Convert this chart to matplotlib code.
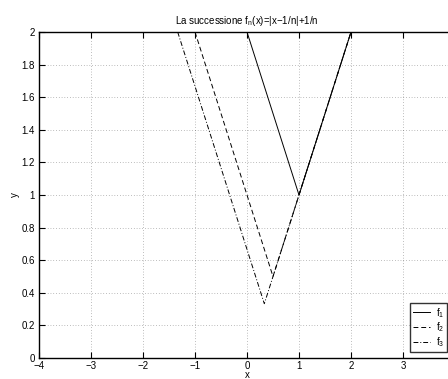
import matplotlib
matplotlib.use('Agg')
import matplotlib.pyplot as plt

plt.rcParams['font.family'] = ['Liberation Sans', 'DejaVu Sans']
plt.rcParams['mathtext.fontset'] = 'custom'
plt.rcParams['mathtext.rm'] = 'Liberation Sans'
plt.rcParams['mathtext.it'] = 'Liberation Sans'

# vertices: f_n(x) = |x - 1/n| + 1/n on the range where f <= 2
x1 = [0, 1, 2]
y1 = [2, 1, 2]
x2 = [-1, 0.5, 2]
y2 = [2, 0.5, 2]
x3 = [-1.333, 0.333, 2]
y3 = [2, 0.333, 2]

labels = ['f$_1$', 'f$_2$', 'f$_3$']
xticks = [-4, -3, -2, -1, 0, 1, 2, 3]
yticks = [0, 0.2, 0.4, 0.6, 0.8, 1, 1.2, 1.4, 1.6, 1.8, 2]

fig = plt.figure(figsize=(4.48, 3.79), dpi=100)
# axes run past the right edge of the picture, as in the original
ax = fig.add_axes([39 / 448, 21 / 379, 416 / 448, 326 / 379])

ax.plot(x1, y1, color='k', linestyle='-', linewidth=0.7, label=labels[0])
ax.plot(x2, y2, color='k', linestyle=(0, (5, 3)), linewidth=0.7, label=labels[1])
ax.plot(x3, y3, color='k', linestyle=(0, (5, 2, 1, 2)), linewidth=0.7, label=labels[2])

ax.set_xlim(-4, 4)
ax.set_ylim(0, 2)
ax.set_xticks(xticks)
ax.set_yticks(yticks)
ax.set_xticklabels(['\u22124', '\u22123', '\u22122', '\u22121', '0', '1', '2', '3'])
ax.set_yticklabels(['0', '0.2', '0.4', '0.6', '0.8', '1', '1.2', '1.4', '1.6', '1.8', '2'])
ax.tick_params(direction='in', length=4, width=0.8, labelsize=7, top=True, right=True, pad=3)
ax.tick_params(axis='x', pad=2)
ax.grid(True, linestyle=(0, (1, 3)), color='k', linewidth=0.5, alpha=0.5)
for s in ax.spines.values():
    s.set_linewidth(1.0)

ax.set_title('La successione f$_\\mathrm{n}$(x)=|x\u22121/n|+1/n', fontsize=7, pad=6)
ax.set_xlabel('x', fontsize=7, labelpad=-0.5)
ax.set_ylabel('y', fontsize=7, labelpad=1)

leg = ax.legend(loc='lower right', bbox_to_anchor=((447 - 39) / 416, (379 - 352 - 21) / 326),
                fontsize=7, frameon=True, fancybox=False, edgecolor='k',
                handlelength=1.7, handletextpad=0.6, borderpad=0.3, labelspacing=0.1,
                borderaxespad=0)
leg.get_frame().set_linewidth(1.0)

fig.savefig('out.png', dpi=100)
